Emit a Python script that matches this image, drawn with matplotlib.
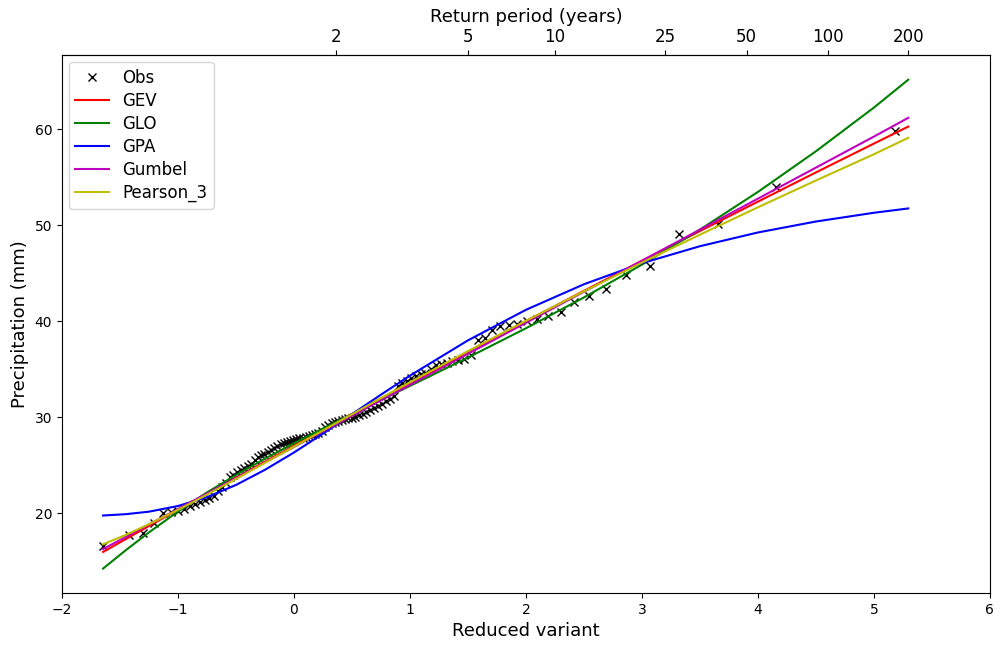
import numpy as np
import matplotlib
matplotlib.use("Agg")
import matplotlib.pyplot as plt

obs_x = [-1.646, -1.426, -1.299, -1.205, -1.128, -1.062, -1.003, -0.949, -0.900, -0.854,
         -0.810, -0.769, -0.730, -0.693, -0.657, -0.621, -0.587, -0.554, -0.522, -0.490,
         -0.459, -0.429, -0.399, -0.369, -0.340, -0.311, -0.283, -0.255, -0.227, -0.199,
         -0.171, -0.144, -0.116, -0.089, -0.062, -0.035, -0.007, 0.020, 0.047, 0.074,
         0.102, 0.129, 0.156, 0.184, 0.211, 0.239, 0.267, 0.296, 0.324, 0.352,
         0.381, 0.410, 0.440, 0.469, 0.499, 0.530, 0.561, 0.592, 0.623, 0.655,
         0.688, 0.721, 0.755, 0.789, 0.824, 0.860, 0.896, 0.933, 0.971, 1.010,
         1.050, 1.091, 1.133, 1.177, 1.221, 1.268, 1.316, 1.365, 1.417, 1.470,
         1.526, 1.585, 1.646, 1.710, 1.779, 1.851, 1.927, 2.010, 2.098, 2.194,
         2.299, 2.415, 2.545, 2.692, 2.862, 3.066, 3.319, 3.653, 4.154, 5.183]
obs_y = [16.6, 17.8, 18.0, 19.0, 20.1, 20.2, 20.3, 20.5, 20.8, 21.0,
         21.2, 21.4, 21.6, 21.8, 22.3, 22.8, 23.2, 23.8, 24.0, 24.3,
         24.5, 24.7, 24.9, 25.2, 25.6, 25.9, 26.1, 26.2, 26.4, 26.6,
         26.8, 27.0, 27.2, 27.3, 27.4, 27.5, 27.7, 27.8, 27.85, 27.9,
         28.0, 28.1, 28.2, 28.3, 28.4, 28.6, 29.0, 29.2, 29.4, 29.5,
         29.6, 29.7, 29.8, 29.9, 29.95, 30.0, 30.2, 30.4, 30.6, 30.8,
         31.0, 31.2, 31.4, 31.7, 31.9, 32.2, 33.3, 33.6, 33.8, 34.1,
         34.3, 34.5, 34.6, 35.0, 35.5, 35.6, 35.7, 35.9, 36.0, 36.1,
         36.5, 38.1, 38.3, 39.1, 39.5, 39.65, 39.7, 40.0, 40.2, 40.6,
         41.0, 42.0, 42.6, 43.4, 44.8, 45.8, 49.1, 50.1, 54.0, 59.8]

# Fitted distribution curves, read at these reduced-variate positions
curve_x = [-1.646, -1.45, -1.25, -1.0, -0.75, -0.5, -0.25, 0.0, 0.25, 0.5, 0.75,
           1.0, 1.5, 2.0, 2.5, 3.0, 3.5, 4.0, 4.5, 5.0, 5.296]
gev = [16.00, 17.34, 18.70, 20.39, 22.07, 23.74, 25.40, 27.06, 28.71, 30.35, 31.98,
       33.60, 36.83, 40.02, 43.17, 46.30, 49.40, 52.46, 55.50, 58.50, 60.27]
glo = [14.27, 16.18, 18.04, 20.20, 22.19, 24.01, 25.71, 27.31, 28.85, 30.34, 31.81,
       33.28, 36.23, 39.28, 42.49, 45.90, 49.55, 53.47, 57.70, 62.25, 65.15]
gpa = [19.79, 19.93, 20.19, 20.78, 21.70, 22.97, 24.55, 26.35, 28.31, 30.34, 32.37,
       34.35, 38.02, 41.20, 43.86, 46.05, 47.82, 49.25, 50.39, 51.30, 51.75]
gumbel = [16.30, 17.56, 18.86, 20.47, 22.08, 23.70, 25.31, 26.93, 28.55, 30.16, 31.78,
          33.39, 36.62, 39.85, 43.08, 46.31, 49.54, 52.77, 56.00, 59.23, 61.18]
pearson3 = [16.80, 17.77, 18.89, 20.38, 21.96, 23.59, 25.27, 26.96, 28.65, 30.33, 32.01,
            33.66, 36.90, 40.06, 43.12, 46.11, 49.02, 51.87, 54.66, 57.39, 59.10]

return_periods = [2, 5, 10, 25, 50, 100, 200]

fig = plt.figure(figsize=(10.05, 6.5), dpi=100)
ax = fig.add_axes([0.0617, 0.0877, 0.9233, 0.8273])

ax.plot(obs_x, obs_y, 'x', color='k', markersize=6, label='Obs')
ax.plot(curve_x, gev, color='r', lw=1.5, label='GEV')
ax.plot(curve_x, glo, color='g', lw=1.5, label='GLO')
ax.plot(curve_x, gpa, color='b', lw=1.5, label='GPA')
ax.plot(curve_x, gumbel, color='m', lw=1.5, label='Gumbel')
ax.plot(curve_x, pearson3, color='y', lw=1.5, label='Pearson_3')

ax.set_xlim(-2, 6)
ax.set_xlabel('Reduced variant', fontsize=13)
ax.set_ylabel('Precipitation (mm)', fontsize=13)
ax.tick_params(labelsize=10)
ax.legend(loc='upper left', fontsize=12, labelspacing=0.3, borderaxespad=0.4)


def to_T(x):
    x = np.asarray(x, dtype=float)
    with np.errstate(all='ignore'):
        F = np.exp(-np.exp(-x))
        return 1.0 / np.clip(1.0 - F, 1e-12, None)


def to_x(T):
    T = np.asarray(T, dtype=float)
    with np.errstate(all='ignore'):
        T = np.clip(T, 1.0 + 1e-12, None)
        return -np.log(-np.log(1.0 - 1.0 / T))


sec = ax.secondary_xaxis('top', functions=(to_T, to_x))
sec.set_xticks(return_periods)
sec.set_xticklabels([str(t) for t in return_periods])
sec.xaxis.set_minor_locator(matplotlib.ticker.NullLocator())
sec.tick_params(labelsize=12)
sec.set_xlabel('Return period (years)', fontsize=13)

fig.savefig('out.png', dpi=100)
